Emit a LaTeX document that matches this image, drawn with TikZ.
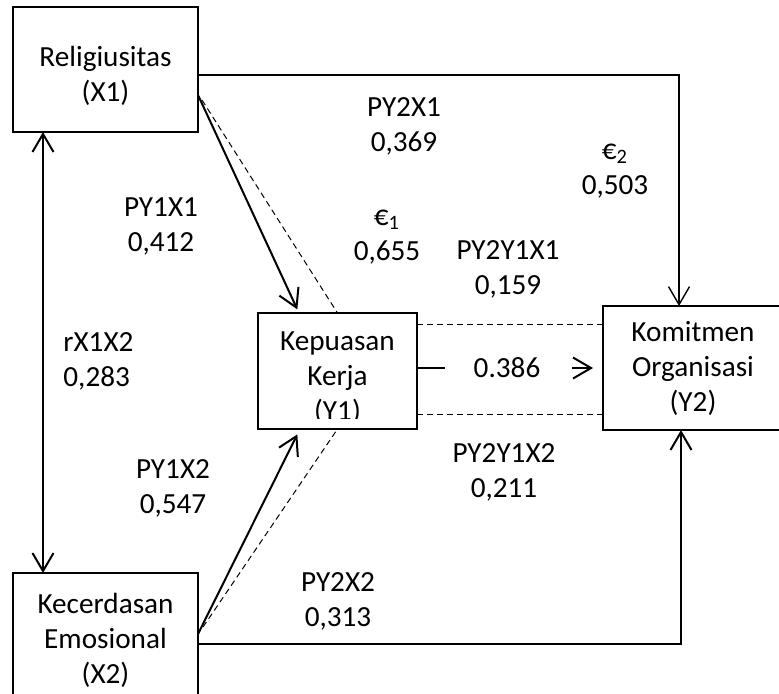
\documentclass[tikz,border=0pt]{standalone}
\usepackage{fontspec}
\setmainfont{Carlito}
\usetikzlibrary{arrows.meta}

\newcommand*{\pw}{779}
\newcommand*{\ph}{693}

\begin{document}
\begin{tikzpicture}
[
	x=0.5pt, y=-0.5pt,
	>={Straight Barb[length=9pt,width=10.5pt]},
	var/.style={rectangle,draw,line width=0.6pt,inner sep=0pt,outer sep=0pt},
	lbl/.style={align=center,inner sep=0pt,font=\fontsize{14.6pt}{17.5pt}\selectfont},
	dsh/.style={dash pattern=on 3pt off 2pt,line width=0.5pt}
]
	\useasboundingbox (0,0) rectangle (\pw,\ph);

	% variable boxes
	\node[var,minimum width=92.5pt,minimum height=62.5pt] at (105.5,69.5) (rel) {};
	\node[lbl] at (105.5,76) (rellbl) {Religiusitas\\(X1)};
	\node[var,lbl,minimum width=92.5pt,minimum height=67pt] at (105.5,640) (kec) {Kecerdasan\\Emosional\\(X2)};
	\node[var,minimum width=79.5pt,minimum height=58pt] at (337.5,371) (kp) {};
	\begin{scope}
		\clip (258,313) rectangle (417,418);
		\node[lbl] at (337.5,378) (kplbl) {Kepuasan\\Kerja\\(Y1)};
	\end{scope}
	\node[var,lbl,minimum width=90pt,minimum height=62pt] at (693,368) (kom) {Komitmen\\Organisasi\\(Y2)};

	% correlation
	\draw[<->,line width=1pt] ([xshift=-31.25pt]rel.south) -- ([xshift=-31.25pt]kec.north);

	% direct paths
	\draw[->,line width=0.7pt] ([yshift=-2.75pt]rel.east) -| ([xshift=-7pt]kom.north);
	\draw[->,line width=1pt] ([yshift=-2pt]kec.east) -| ([xshift=-6pt]kom.south);
	\draw[->,line width=1pt,shorten >=2pt] ([yshift=-12.75pt]rel.east) -- ([xshift=-19.25pt]kp.north);
	\draw[->,line width=1pt,shorten >=3pt] ([yshift=3pt]kec.east) -- ([xshift=-18.75pt]kp.south);

	% indirect paths
	\draw[dsh] ([xshift=2pt,yshift=-15.25pt]rel.east) -- (kp.north);
	\draw[dsh] ([xshift=2.5pt,yshift=6.5pt]kec.east) -- (kp.south);
	\draw[dsh] ([yshift=23.5pt]kp.east) -- ([yshift=22pt]kom.west);
	\draw[dsh] ([yshift=-21.5pt]kp.east) -- ([yshift=-23pt]kom.west);

	% Y1 to Y2
	\coordinate (gapa) at (445,368);
	\coordinate (gapb) at (572,368);
	\draw[line width=1pt] ([yshift=1.5pt]kp.east) -- (gapa);
	\draw[->,line width=1pt] (gapb) -- ([xshift=-5pt]kom.west);

	% coefficients
	\node[lbl] at (404,126) (py2x1) {PY2X1\\0,369};
	\node[lbl] at (615,171) (eps2) {€\textsubscript{2}\\0,503};
	\node[lbl] at (161,226) (py1x1) {PY1X1\\0,412};
	\node[lbl] at (387,237) (eps1) {€\textsubscript{1}\\0,655};
	\node[lbl] at (508,269) (py2y1x1) {PY2Y1X1\\0,159};
	\node[lbl,align=left,anchor=west] at (63,361) (rx1x2) {rX1X2\\0,283};
	\node[lbl] at (507,368) (py2y1) {0.386};
	\node[lbl] at (173,488) (py1x2) {PY1X2\\0,547};
	\node[lbl] at (504,472) (py2y1x2) {PY2Y1X2\\0,211};
	\node[lbl] at (338,601) (py2x2) {PY2X2\\0,313};

\end{tikzpicture}
\end{document}
